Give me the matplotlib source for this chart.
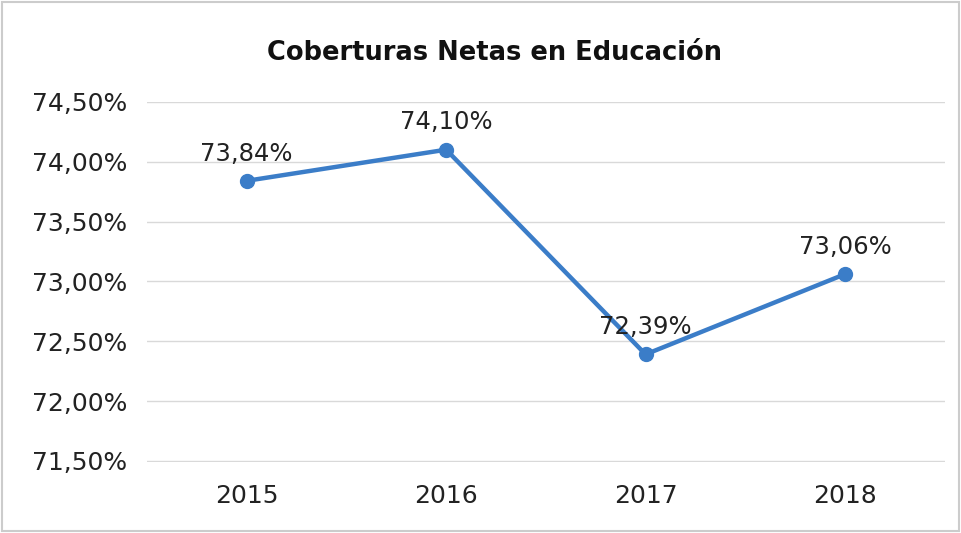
import matplotlib.pyplot as plt
from matplotlib.ticker import FuncFormatter

years = ['2015', '2016', '2017', '2018']
coverage = [73.84, 74.10, 72.39, 73.06]
y_ticks = [71.5, 72.0, 72.5, 73.0, 73.5, 74.0, 74.5]

line_color = '#3B7DC8'

fig = plt.figure(figsize=(9.61, 5.33), dpi=100)
ax = fig.add_axes([0.153, 0.133, 0.83, 0.676])

x = range(len(years))
ax.plot(x, coverage, color=line_color, linewidth=3.2, marker='o', markersize=10)

# data labels above points
for i, v in enumerate(coverage):
    ax.annotate(f'{v:.2f}%'.replace('.', ','), (i, v), textcoords='offset points',
                xytext=(0, 11), ha='center', va='bottom', fontsize=17.5, color='#222222')

ax.set_xlim(-0.5, len(years) - 0.5)
ax.set_ylim(71.49, 74.5)
ax.set_yticks(y_ticks)
ax.yaxis.set_major_formatter(FuncFormatter(lambda v, p: f'{v:.2f}%'.replace('.', ',')))
ax.set_xticks(list(x))
ax.set_xticklabels(years)
ax.tick_params(axis='both', length=0, labelsize=18, labelcolor='#222222')
ax.tick_params(axis='x', pad=16)
ax.tick_params(axis='y', pad=14)
ax.grid(axis='y', color='#d9d9d9', linewidth=1)
ax.set_axisbelow(True)
for s in ax.spines.values():
    s.set_visible(False)

fig.text(0.515, 0.9, 'Coberturas Netas en Educación', ha='center', va='center',
         fontsize=18.5, fontweight='bold', color='#111111')

# light frame around the chart
fig.patches.append(plt.Rectangle((0.002, 0.003), 0.996, 0.994, transform=fig.transFigure,
                                 fill=False, edgecolor='#cccccc', linewidth=1.5))

plt.savefig('out.png', dpi=100)
